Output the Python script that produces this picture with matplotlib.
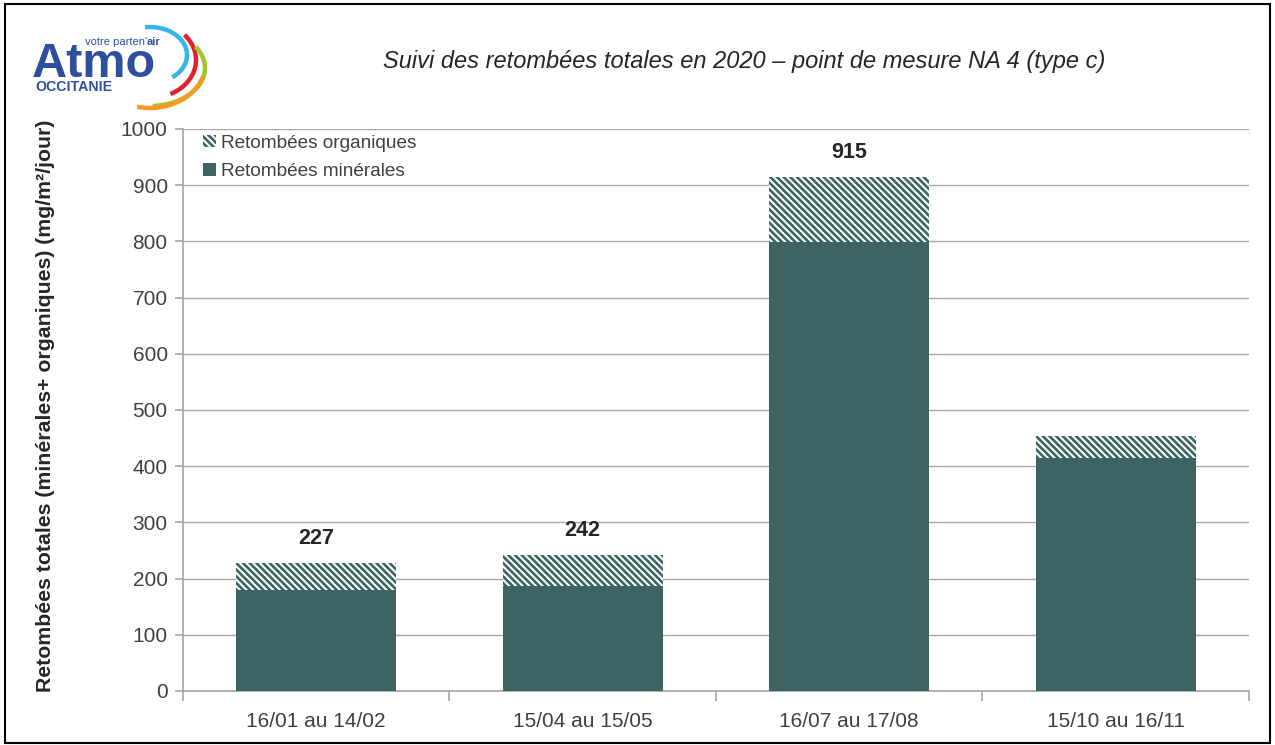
import numpy as np
import matplotlib
matplotlib.use('Agg')
import matplotlib.pyplot as plt
from matplotlib.patches import Arc, Rectangle

plt.rcParams['font.family'] = ['Liberation Sans', 'DejaVu Sans']
plt.rcParams['hatch.linewidth'] = 1.9

# données
periodes = ['16/01 au 14/02', '15/04 au 15/05', '16/07 au 17/08', '15/10 au 16/11']
minerales = [180, 186, 799, 415]
organiques = [47, 56, 116, 38]
etiquettes = ['227', '242', '915', '']

couleur = '#3b6462'
gris_texte = '#404040'
gris_ligne = '#a6a6a6'

fig = plt.figure(figsize=(12.75, 7.45), dpi=100)
ax = fig.add_axes([0.1435, 0.0725, 0.836, 0.7545])

x = np.arange(len(periodes))
ax.bar(x, minerales, width=0.6, color=couleur, linewidth=0, label='Retombées minérales', zorder=3)
ax.bar(x, organiques, width=0.6, bottom=minerales, color='white', edgecolor=couleur,
       hatch='\\\\\\\\\\', linewidth=0, label='Retombées organiques', zorder=3)

total = np.array(minerales) + np.array(organiques)
for xi, t, lab in zip(x, total, etiquettes):
    if lab:
        ax.text(xi, t + 25, lab, ha='center', va='bottom', fontsize=15.5,
                fontweight='bold', color='#262626')

ax.set_xlim(-0.5, len(periodes) - 0.5)
ax.set_ylim(0, 1000)
ax.set_yticks(np.arange(0, 1001, 100))
ax.yaxis.grid(True, color=gris_ligne, linewidth=1.0, zorder=0)
ax.set_axisbelow(True)

ax.set_xticks(x)
ax.set_xticklabels(periodes)
ax.set_xticks(np.arange(-0.5, len(periodes)), minor=True)
ax.tick_params(axis='x', which='major', length=0, pad=15, labelsize=15, labelcolor=gris_texte)
ax.tick_params(axis='x', which='minor', length=7, color=gris_ligne, width=1.2)
ax.tick_params(axis='y', length=6, color=gris_ligne, width=1.2, pad=5, labelsize=15,
               labelcolor=gris_texte)

for s in ['top', 'right']:
    ax.spines[s].set_visible(False)
for s in ['left', 'bottom']:
    ax.spines[s].set_color(gris_ligne)
    ax.spines[s].set_linewidth(1.2)

ax.set_ylabel('Retombées totales (minérales+ organiques) (mg/m²/jour)', fontsize=15.3,
              fontweight='bold', color='#262626')
ax.yaxis.set_label_coords(-0.12, 0.508)

h, l = ax.get_legend_handles_labels()
leg = ax.legend(h[::-1], l[::-1], loc='upper left', bbox_to_anchor=(0.003, 1.02), frameon=False,
                fontsize=13.7, handlelength=0.65, handleheight=0.65, handletextpad=0.3,
                labelspacing=0.6)
for t in leg.get_texts():
    t.set_color(gris_texte)

fig.text(0.584, 0.917, 'Suivi des retombées totales en 2020 \u2013 point de mesure NA 4 (type c)',
         ha='center', va='center', fontsize=17, style='italic', color='#262626')

# cadre
fig.add_artist(Rectangle((0.004, 0.003), 0.992, 0.992, transform=fig.transFigure,
                         fill=False, edgecolor='black', linewidth=1.5))

# logo (coordonnées en pixels, y vers le haut)
lg = fig.add_axes([20 / 1275, 630 / 745, 195 / 1275, 100 / 745])
lg.set_xlim(20, 215)
lg.set_ylim(630, 730)
lg.axis('off')
bleu = '#2f4f9c'
lg.text(32, 668, 'Atmo', fontsize=35, fontweight='bold', color=bleu, va='baseline')
lg.text(35, 658, 'OCCITANIE', fontsize=10.2, fontweight='bold', color=bleu, va='center')
lg.text(85, 703, "votre parten'", fontsize=8, color=bleu, va='center')
lg.text(147, 703, 'air', fontsize=8, fontweight='bold', color=bleu, va='center')
arcs = [((150, 690), 74, 56, -45, 100, '#35b6e6'),
        ((150, 685), 92, 76, -59, 36, '#e0202d'),
        ((150, 677), 110, 76, -86, 25, '#a2c62c'),
        ((150, 683), 112, 92, -106, -16, '#f49a24')]
for c, w, hh, a1, a2, col in arcs:
    lg.add_patch(Arc(c, w, hh, theta1=a1, theta2=a2, color=col, linewidth=3.2))

fig.savefig('out.png', dpi=100)
